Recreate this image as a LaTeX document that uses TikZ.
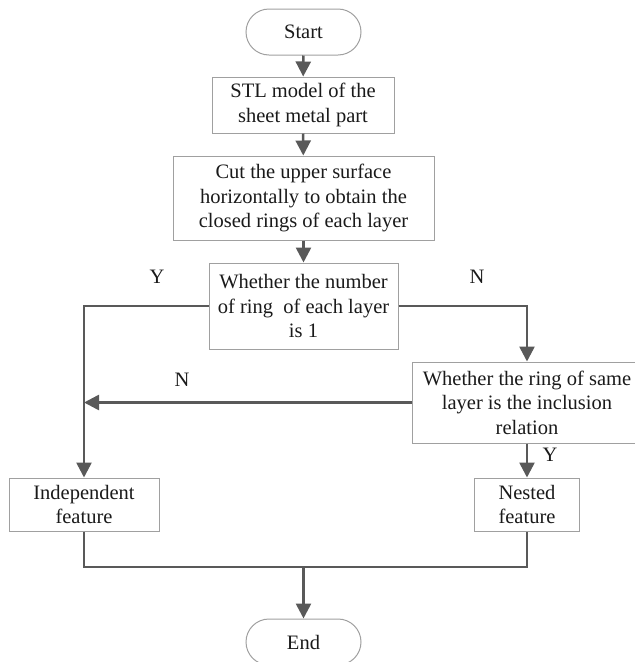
\documentclass[tikz,border=0pt]{standalone}
\usepackage{fontspec}
\setmainfont{Liberation Serif}
\usetikzlibrary{arrows.meta}
\definecolor{boxline}{HTML}{A0A0A0}
\definecolor{flowline}{HTML}{595959}
\definecolor{ink}{HTML}{1A1A1A}

\begin{document}
\begin{tikzpicture}[x=1pt,y=-1pt,
    every node/.style={font=\fontsize{20.5}{24.5}\selectfont,color=ink},
    box/.style={draw=boxline,line width=1pt,align=center,inner sep=0pt},
    term/.style={box,rounded corners=23pt,minimum width=115pt,minimum height=46pt},
    flow/.style={draw=flowline,line width=2.6pt,-{Triangle[length=15pt,width=15pt]}},
    wire/.style={draw=flowline,line width=2.6pt}]
      \useasboundingbox (0,0) rectangle (635,662);
      \clip (0,0) rectangle (635,662);
      % steps down the middle
      \node[term] (start) at (303.5,32) {Start};
      \node[box,minimum width=182pt,minimum height=56pt] (stl) at (303,105)
        {STL model of the\\sheet metal part};
      \node[box,minimum width=261pt,minimum height=84pt] (cut) at (303.5,198)
        {Cut the upper surface\\horizontally to obtain the\\closed rings of each layer};
      \node[box,minimum width=189pt,minimum height=86pt] (ask1) at (303.5,306)
        {Whether the number\\of ring~ of each layer\\is 1};
      % second test, right side
      \node[box,minimum width=230pt,minimum height=81pt] (ask2) at (527,402.5)
        {Whether the ring of same\\layer is the inclusion\\relation};
      % results
      \node[box,minimum width=150pt,minimum height=53pt] (indep) at (84,504.5)
        {Independent\\feature};
      \node[box,minimum width=105pt,minimum height=53pt] (nested) at (527,504.5)
        {Nested\\feature};
      \node[term] (end) at (303.5,642) {End};
      \coordinate (join) at (indep.north |- ask2.west);
      \coordinate (merge) at (303.5,567);
      % connectors
      \draw[flow] (start) -- (stl);
      \draw[flow] (stl) -- (cut);
      \draw[flow] (cut) -- (ask1);
      \draw[flow] (ask1.west) -| (indep.north);
      \draw[flow] (ask1.east) -| (ask2.north);
      \draw[flow] (ask2.west) -- (join);
      \draw[flow] (ask2) -- (nested);
      \draw[wire] (indep.south) |- (merge) -| (nested.south);
      \draw[flow] (merge) -- (end);
      % branch labels
      \node (y1) at (157,277) {Y};
      \node (n1) at (477,277) {N};
      \node (n2) at (182,380) {N};
      \node (y2) at (550,455) {Y};
    \end{tikzpicture}
\end{document}
